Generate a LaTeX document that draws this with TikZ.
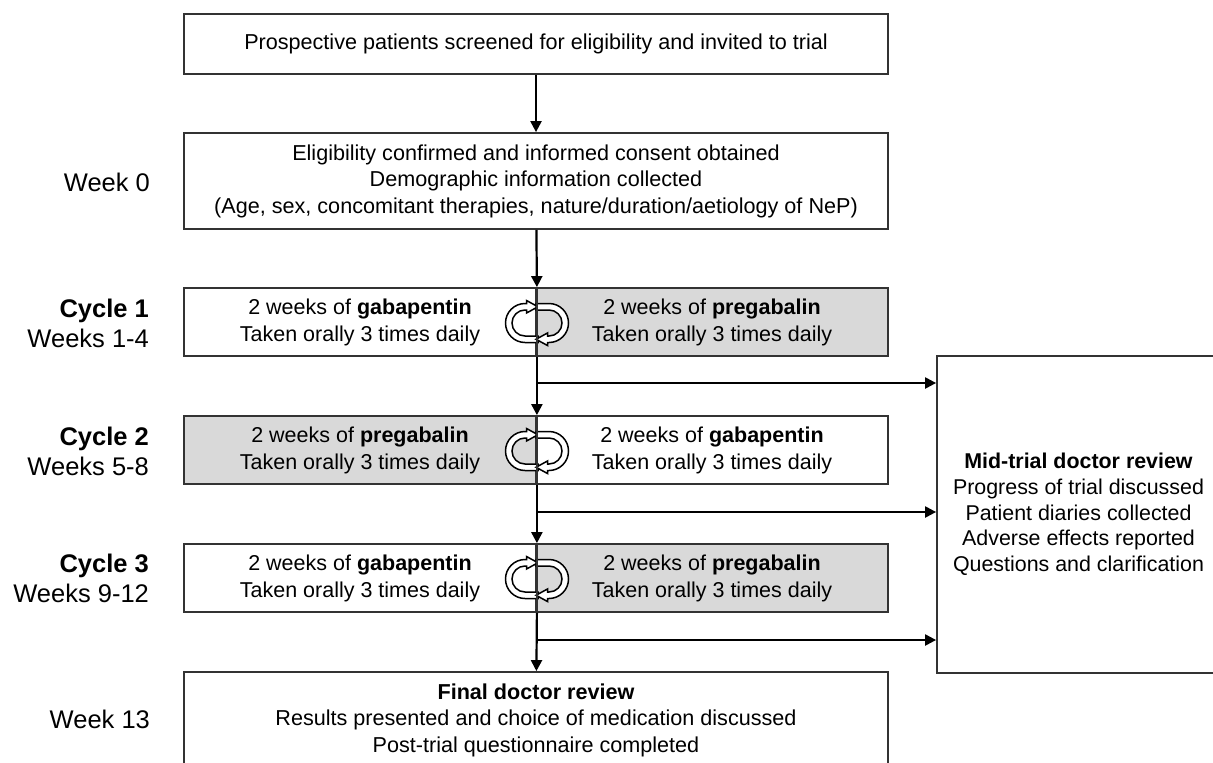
\documentclass[tikz,border=0pt]{standalone}
\usepackage{fontspec}
\setmainfont{Liberation Sans}
\usetikzlibrary{calc,arrows.meta}

\begin{document}
\begin{tikzpicture} [x=1pt,y=-1pt,->,>={Triangle[length=11pt,width=11pt]},line width=2.2pt]
  \tikzstyle{box}=[draw=black!80,line width=1.8pt,fill=white,minimum width=704pt,align=center,font=\fontsize{21.6}{26.5}\selectfont]
  \tikzstyle{half}=[draw=black!80,line width=1.8pt,fill=white,minimum width=352pt,minimum height=68pt,align=center,font=\fontsize{21.5}{27}\selectfont]
  \tikzstyle{grey}=[fill=black!15]
  \tikzstyle{lab}=[anchor=east,align=right,inner sep=0pt,font=\fontsize{25.5}{30}\selectfont]
  \tikzstyle{swapline}=[-,draw=black,line width=1.5pt,fill=white]

  \useasboundingbox (0,0) rectangle (1213,763);

  \node[box,minimum height=60pt]  (P)  at (536,44)  {Prospective patients screened for eligibility and invited to trial};
  \node[box,minimum height=96pt]  (E)  at (536,181) {Eligibility confirmed and informed consent obtained\\Demographic information collected\\(Age, sex, concomitant therapies, nature/duration/aetiology of NeP)};
  \node[half]        (C1L) at (360,322) {2 weeks of \textbf{gabapentin}\\Taken orally 3 times daily};
  \node[half,grey]   (C1R) at (712,322) {2 weeks of \textbf{pregabalin}\\Taken orally 3 times daily};
  \node[half,grey]   (C2L) at (360,450) {2 weeks of \textbf{pregabalin}\\Taken orally 3 times daily};
  \node[half]        (C2R) at (712,450) {2 weeks of \textbf{gabapentin}\\Taken orally 3 times daily};
  \node[half]        (C3L) at (360,578) {2 weeks of \textbf{gabapentin}\\Taken orally 3 times daily};
  \node[half,grey]   (C3R) at (712,578) {2 weeks of \textbf{pregabalin}\\Taken orally 3 times daily};
  \node[box,minimum height=96pt]  (F)  at (536,720) {\textbf{Final doctor review}\\Results presented and choice of medication discussed\\Post-trial questionnaire completed};
  \node[box,minimum width=283pt,minimum height=317pt,font=\fontsize{21.4}{25.7}\selectfont] (M) at (1078.5,514.5)
       {\textbf{Mid-trial doctor review}\\Progress of trial discussed\\Patient diaries collected\\Adverse effects reported\\Questions and clarification};

  \node[lab] (L0) at (151,182) {Week 0};
  \node[lab] (L1) at (150,323) {\textbf{Cycle 1}\\Weeks 1-4};
  \node[lab] (L2) at (150,451) {\textbf{Cycle 2}\\Weeks 5-8};
  \node[lab] (L3) at (150,578) {\textbf{Cycle 3}\\Weeks 9-12};
  \node[lab] (L4) at (151,719) {Week 13};

  % swap icons, then the dividers again on top
  \foreach \y/\n in {323/C1L,451/C2L,579/C3L} {
    \foreach \r in {0,180}
      \filldraw[swapline,shift={(537,\y)},rotate=\r]
        (1,19.5) -- (-12,19.5) arc[start angle=90,end angle=270,radius=19.5]
        -- (-10.5,-19.5) -- (-10.5,-22.5) -- (1,-16.25) -- (-10.5,-10) -- (-10.5,-13)
        -- (-12,-13) arc[start angle=270,end angle=90,radius=13] -- (1,13) -- cycle;
    \draw[-,draw=black!80,line width=1.8pt] (\n.north east) -- (\n.south east);
  }

  \coordinate (B1) at (536,383);
  \coordinate (B2) at (536,512);
  \coordinate (B3) at (536,640);

  \draw (P) -- (E);
  \draw (E) -- (C1L.north east);
  \draw (C1L.south east) -- (C2L.north east);
  \draw (C2L.south east) -- (C3L.north east);
  \draw (C3L.south east) -- (F);
  \draw (B1) -- (B1 -| M.west);
  \draw (B2) -- (B2 -| M.west);
  \draw (B3) -- (B3 -| M.west);

\end{tikzpicture}
\end{document}
